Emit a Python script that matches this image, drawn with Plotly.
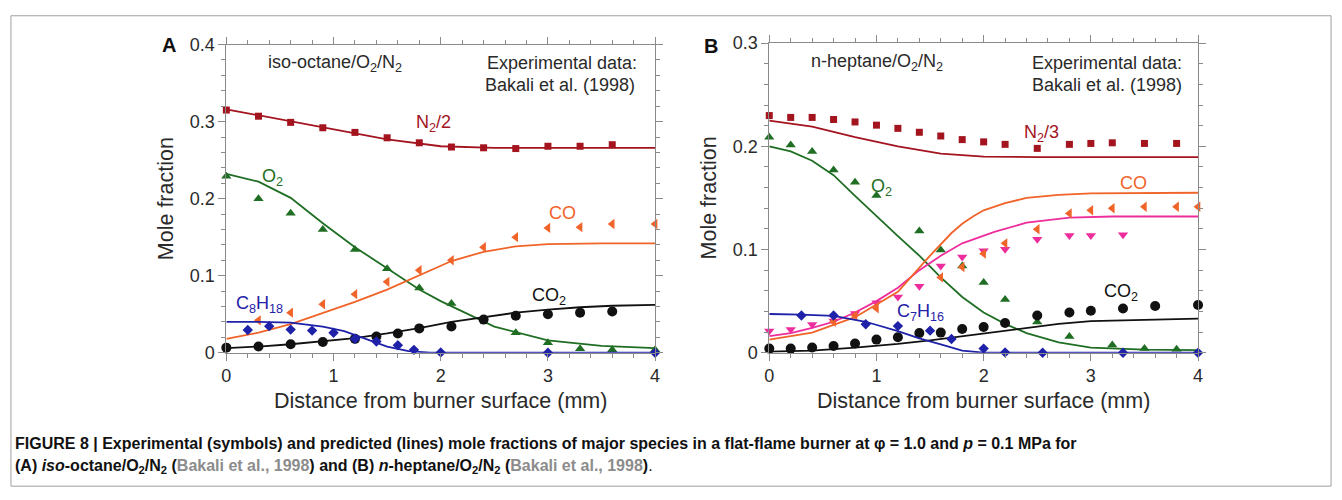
import plotly.graph_objects as go

# ---------------- Panel A: iso-octane/O2/N2 ----------------
# experimental symbols
a_n2_x = [0.0, 0.3, 0.6, 0.9, 1.2, 1.5, 1.8, 2.1, 2.4, 2.7, 3.0, 3.3, 3.6]
a_n2_y = [0.315, 0.307, 0.299, 0.292, 0.286, 0.279, 0.2725, 0.267, 0.266, 0.265, 0.268, 0.268, 0.270]
a_o2_x = [0.0, 0.3, 0.6, 0.9, 1.2, 1.5, 1.8, 2.1, 2.7, 3.0, 3.3, 3.6, 4.0]
a_o2_y = [0.229, 0.200, 0.181, 0.160, 0.134, 0.109, 0.084, 0.064, 0.026, 0.013, 0.005, 0.004, 0.004]
a_co_x = [0.3, 0.6, 0.9, 1.2, 1.5, 1.8, 2.1, 2.4, 2.7, 3.0, 3.3, 3.6, 4.0]
a_co_y = [0.042, 0.052, 0.063, 0.076, 0.092, 0.107, 0.120, 0.137, 0.150, 0.162, 0.163, 0.167, 0.167]
a_co2_x = [0.0, 0.3, 0.6, 0.9, 1.2, 1.4, 1.6, 1.8, 2.1, 2.4, 2.7, 3.0, 3.3, 3.6]
a_co2_y = [0.0066, 0.008, 0.011, 0.014, 0.018, 0.021, 0.025, 0.0316, 0.034, 0.043, 0.048, 0.050, 0.052, 0.0536]
a_fuel_x = [0.2, 0.4, 0.6, 0.8, 1.0, 1.2, 1.4, 1.6, 1.75, 2.0, 3.0, 4.0]
a_fuel_y = [0.0295, 0.0345, 0.030, 0.0287, 0.026, 0.018, 0.0146, 0.0096, 0.0037, 0.0004, 0.0, 0.0]
# predicted lines
a_n2_lx = [0.0, 0.5, 1.0, 1.5, 2.0, 2.5, 3.0, 4.0]
a_n2_ly = [0.316, 0.303, 0.290, 0.277, 0.268, 0.266, 0.266, 0.266]
a_o2_lx = [0.0, 0.3, 0.6, 0.9, 1.2, 1.5, 1.8, 2.0, 2.5, 3.0, 3.5, 4.0]
a_o2_ly = [0.232, 0.222, 0.201, 0.168, 0.137, 0.110, 0.082, 0.067, 0.034, 0.016, 0.009, 0.006]
a_co_lx = [0.0, 0.3, 0.6, 0.9, 1.2, 1.5, 1.8, 2.1, 2.4, 2.7, 3.0, 3.5, 4.0]
a_co_ly = [0.018, 0.026, 0.037, 0.051, 0.066, 0.082, 0.101, 0.119, 0.131, 0.138, 0.141, 0.142, 0.142]
a_co2_lx = [0.0, 0.3, 0.6, 0.9, 1.2, 1.5, 1.8, 2.1, 2.4, 2.7, 3.0, 3.3, 3.6, 4.0]
a_co2_ly = [0.006, 0.008, 0.011, 0.015, 0.019, 0.025, 0.032, 0.040, 0.046, 0.052, 0.056, 0.059, 0.061, 0.062]
a_fuel_lx = [0.0, 0.3, 0.6, 0.9, 1.1, 1.3, 1.5, 1.7, 1.9, 4.0]
a_fuel_ly = [0.040, 0.040, 0.039, 0.034, 0.028, 0.018, 0.008, 0.002, 0.0, 0.0]

# ---------------- Panel B: n-heptane/O2/N2 ----------------
b_n2_x = [0.0, 0.2, 0.4, 0.6, 0.8, 1.0, 1.2, 1.4, 1.6, 1.8, 2.0, 2.2, 2.5, 2.8, 3.0, 3.2, 3.5, 3.8]
b_n2_y = [0.2298, 0.228, 0.228, 0.226, 0.2236, 0.2205, 0.2174, 0.2136, 0.210, 0.2065, 0.2043, 0.2019,
          0.198, 0.2019, 0.2028, 0.2034, 0.2028, 0.2028]
b_o2_x = [0.0, 0.2, 0.4, 0.6, 0.8, 1.0, 1.4, 1.6, 1.8, 2.0, 2.2, 2.5, 2.8, 3.2, 3.5, 3.8]
b_o2_y = [0.2087, 0.2012, 0.195, 0.177, 0.1653, 0.1523, 0.118, 0.0995, 0.084, 0.068, 0.0515, 0.0298,
          0.0158, 0.0075, 0.004, 0.0034]
b_co_x = [0.6, 0.8, 1.0, 1.6, 1.8, 2.0, 2.2, 2.5, 2.8, 3.0, 3.2, 3.5, 3.8, 4.0]
b_co_y = [0.030, 0.036, 0.043, 0.073, 0.083, 0.096, 0.106, 0.1197, 0.135, 0.138, 0.140, 0.1414, 0.1414, 0.1414]
b_pk_x = [0.0, 0.2, 0.4, 0.6, 0.8, 1.0, 1.2, 1.4, 1.6, 1.8, 2.0, 2.2, 2.5, 2.8, 3.0, 3.3]
b_pk_y = [0.021, 0.0226, 0.0273, 0.0307, 0.038, 0.0484, 0.054, 0.0645, 0.084, 0.0927, 0.0989, 0.1002,
          0.110, 0.1135, 0.1135, 0.1144]
b_co2_x = [0.0, 0.2, 0.4, 0.6, 0.8, 1.0, 1.2, 1.4, 1.6, 1.8, 2.0, 2.2, 2.5, 2.8, 3.0, 3.3, 3.6, 4.0]
b_co2_y = [0.004, 0.004, 0.005, 0.0065, 0.009, 0.0127, 0.015, 0.019, 0.0195, 0.023, 0.025, 0.0288,
           0.036, 0.039, 0.0406, 0.0428, 0.0453, 0.0462]
b_fuel_x = [0.3, 0.6, 0.9, 1.2, 1.5, 1.7, 2.0, 2.2, 2.55, 3.3, 4.0]
b_fuel_y = [0.036, 0.036, 0.0276, 0.0258, 0.0214, 0.0133, 0.004, 0.0003, 0.0, 0.0, 0.0]
# predicted lines
b_n2_lx = [0.0, 0.4, 0.8, 1.2, 1.6, 2.0, 2.5, 4.0]
b_n2_ly = [0.225, 0.219, 0.209, 0.200, 0.193, 0.190, 0.1895, 0.1895]
b_o2_lx = [0.0, 0.2, 0.4, 0.6, 0.8, 1.0, 1.2, 1.4, 1.6, 1.8, 2.0, 2.2, 2.4, 2.7, 3.0, 3.5, 4.0]
b_o2_ly = [0.200, 0.195, 0.186, 0.172, 0.152, 0.132, 0.113, 0.094, 0.073, 0.054, 0.039, 0.028, 0.019,
           0.010, 0.005, 0.003, 0.0025]
b_co_lx = [0.0, 0.4, 0.8, 1.2, 1.5, 1.6, 1.7, 1.8, 1.9, 2.0, 2.2, 2.4, 2.7, 3.0, 4.0]
b_co_ly = [0.0127, 0.0195, 0.0344, 0.059, 0.094, 0.105, 0.116, 0.125, 0.132, 0.138, 0.145, 0.150,
           0.153, 0.1545, 0.155]
b_pk_lx = [0.0, 0.2, 0.4, 0.6, 0.8, 1.0, 1.2, 1.4, 1.6, 1.8, 2.1, 2.4, 2.8, 3.2, 4.0]
b_pk_ly = [0.016, 0.019, 0.024, 0.030, 0.039, 0.050, 0.063, 0.080, 0.094, 0.106, 0.117, 0.126, 0.131,
           0.132, 0.132]
b_co2_lx = [0.0, 0.4, 0.8, 1.2, 1.5, 1.8, 2.1, 2.4, 2.7, 3.0, 3.5, 4.0]
b_co2_ly = [0.001, 0.002, 0.005, 0.0085, 0.012, 0.016, 0.0205, 0.0245, 0.028, 0.0307, 0.032, 0.033]
b_fuel_lx = [0.0, 0.3, 0.6, 0.9, 1.2, 1.4, 1.6, 1.8, 2.0, 4.0]
b_fuel_ly = [0.0375, 0.037, 0.0357, 0.030, 0.021, 0.014, 0.008, 0.002, 0.0, 0.0]

x_ticks = [0, 1, 2, 3, 4]
a_y_ticks = [0, 0.1, 0.2, 0.3, 0.4]
b_y_ticks = [0, 0.1, 0.2, 0.3]

# ---------------- styles ----------------
C_N2 = "#a3141e"
C_O2 = "#1f6e24"
C_CO = "#f0642a"
C_CO2 = "#111111"
C_FUEL = "#1f22a8"
C_PK = "#ee2d9c"
FONT = "Liberation Sans, Arial, Helvetica, sans-serif"
TXT = "#2a2a2a"

fig = go.Figure()


def add_series(xs, ys, lx, ly, color, symbol, size, ax, lcolor=None):
    xa, ya = ax
    fig.add_trace(go.Scatter(x=lx, y=ly, mode="lines", line=dict(color=lcolor or color, width=1.8),
                             xaxis=xa, yaxis=ya, showlegend=False, hoverinfo="skip", cliponaxis=False))
    fig.add_trace(go.Scatter(x=xs, y=ys, mode="markers",
                             marker=dict(symbol=symbol, size=size, color=color, line=dict(width=0)),
                             xaxis=xa, yaxis=ya, showlegend=False, cliponaxis=False))


A = ("x", "y")
B = ("x2", "y2")
add_series(a_n2_x, a_n2_y, a_n2_lx, a_n2_ly, C_N2, "square", 7, A)
add_series(a_o2_x, a_o2_y, a_o2_lx, a_o2_ly, C_O2, "triangle-up", 9, A)
add_series(a_co_x, a_co_y, a_co_lx, a_co_ly, C_CO, "triangle-left", 9, A)
add_series(a_co2_x, a_co2_y, a_co2_lx, a_co2_ly, C_CO2, "circle", 10, A)
add_series(a_fuel_x, a_fuel_y, a_fuel_lx, a_fuel_ly, C_FUEL, "diamond", 8, A)

add_series(b_n2_x, b_n2_y, b_n2_lx, b_n2_ly, C_N2, "square", 7, B)
add_series(b_o2_x, b_o2_y, b_o2_lx, b_o2_ly, C_O2, "triangle-up", 9, B)
add_series(b_pk_x, b_pk_y, b_pk_lx, b_pk_ly, C_PK, "triangle-down", 9, B)
add_series(b_co_x, b_co_y, b_co_lx, b_co_ly, C_CO, "triangle-left", 9, B)
add_series(b_co2_x, b_co2_y, b_co2_lx, b_co2_ly, C_CO2, "circle", 10, B)
add_series(b_fuel_x, b_fuel_y, b_fuel_lx, b_fuel_ly, C_FUEL, "diamond", 8, B)

AX_COL = "#8a8a8a"
common = dict(showline=True, linecolor=AX_COL, linewidth=1, mirror="ticks", ticks="outside",
              ticklen=7, tickwidth=1, tickcolor=AX_COL, showgrid=False, zeroline=False,
              tickfont=dict(family=FONT, size=18, color=TXT), fixedrange=True)

xcommon = dict(common, range=[0, 4], tickvals=x_ticks, ticktext=[str(v) for v in x_ticks],
               minor=dict(dtick=0.2, ticks="outside", ticklen=4, tickcolor=AX_COL, showgrid=False),
               title=dict(text="Distance from burner surface (mm)", font=dict(family=FONT, size=21.5, color=TXT),
                          standoff=7))

fig.update_layout(
    width=1342, height=500, margin=dict(l=0, r=0, t=0, b=0),
    paper_bgcolor="white", plot_bgcolor="white",
    xaxis=dict(xcommon, domain=[223 / 1342, 655 / 1342], anchor="y"),
    yaxis=dict(common, domain=[1 - 357 / 500, 1 - 36 / 500], anchor="x", range=[0, 0.4],
               tickvals=a_y_ticks, ticktext=["0", "0.1", "0.2", "0.3", "0.4"],
               minor=dict(dtick=0.02, ticks="outside", ticklen=4, tickcolor=AX_COL, showgrid=False),
               title=dict(text="Mole fraction", font=dict(family=FONT, size=21.5, color=TXT), standoff=10)),
    xaxis2=dict(xcommon, domain=[770 / 1342, 1202 / 1342], anchor="y2"),
    yaxis2=dict(common, domain=[1 - 357 / 500, 1 - 34.5 / 500], anchor="x2", range=[0, 0.3],
                tickvals=b_y_ticks, ticktext=["0", "0.1", "0.2", "0.3"],
                minor=dict(dtick=0.02, ticks="outside", ticklen=4, tickcolor=AX_COL, showgrid=False),
                title=dict(text="Mole fraction", font=dict(family=FONT, size=21.5, color=TXT), standoff=10)),
)

ann = []


def txt(x, y, text, color=TXT, xref="x", yref="y", xanchor="center", size=18, yanchor="middle"):
    ann.append(dict(x=x, y=y, xref=xref, yref=yref, text=text, showarrow=False, xanchor=xanchor,
                    yanchor=yanchor, font=dict(family=FONT, size=size, color=color)))


# panel A texts
txt(0.37, 0.376, "iso-octane/O<sub>2</sub>/N<sub>2</sub>", xanchor="left")
txt(3.85, 0.376, "Experimental data:", xanchor="right")
txt(3.83, 0.348, "Bakali et al. (1998)", xanchor="right")
txt(1.935, 0.297, "N<sub>2</sub>/2", C_N2)
txt(0.435, 0.228, "O<sub>2</sub>", C_O2)
txt(3.136, 0.181, "CO", C_CO)
txt(0.306, 0.063, "C<sub>8</sub>H<sub>18</sub>", C_FUEL)
txt(3.01, 0.073, "CO<sub>2</sub>", C_CO2)
# panel B texts
txt(0.37, 0.281, "n-heptane/O<sub>2</sub>/N<sub>2</sub>", xref="x2", yref="y2", xanchor="left")
txt(3.87, 0.281, "Experimental data:", xref="x2", yref="y2", xanchor="right")
txt(3.87, 0.2595, "Bakali et al. (1998)", xref="x2", yref="y2", xanchor="right")
txt(2.537, 0.2125, "N<sub>2</sub>/3", C_N2, xref="x2", yref="y2")
txt(1.049, 0.160, "O<sub>2</sub>", C_O2, xref="x2", yref="y2")
txt(3.395, 0.1647, "CO", C_CO, xref="x2", yref="y2")
txt(1.407, 0.039, "C<sub>7</sub>H<sub>16</sub>", C_FUEL, xref="x2", yref="y2")
txt(3.278, 0.058, "CO<sub>2</sub>", C_CO2, xref="x2", yref="y2")
# panel letters
ann.append(dict(x=165 / 1342, y=1 - 36 / 500, xref="paper", yref="paper", text="<b>A</b>", showarrow=False,
                font=dict(family=FONT, size=20, color="#111"), xanchor="center", yanchor="middle"))
ann.append(dict(x=711 / 1342, y=1 - 37 / 500, xref="paper", yref="paper", text="<b>B</b>", showarrow=False,
                font=dict(family=FONT, size=20, color="#111"), xanchor="center", yanchor="middle"))
# caption
GREY = "#8c8c8c"
cap1 = ("<b>FIGURE 8 | Experimental (symbols) and predicted (lines) mole fractions of major species in a "
        "flat-flame burner at φ = 1.0 and <i>p</i> = 0.1 MPa for</b>")
cap2 = ("<b>(A) <i>iso</i>-octane/O<sub>2</sub>/N<sub>2</sub> (<span style='color:" + GREY + "'>Bakali et al., 1998</span>) "
        "and (B) <i>n</i>-heptane/O<sub>2</sub>/N<sub>2</sub> (<span style='color:" + GREY + "'>Bakali et al., 1998</span>)</b>.")
ann.append(dict(x=8 / 1342, y=1 - 452 / 500, xref="paper", yref="paper", text=cap1, showarrow=False,
                xanchor="left", yanchor="middle", font=dict(family=FONT, size=16, color="#111")))
ann.append(dict(x=8 / 1342, y=1 - 475 / 500, xref="paper", yref="paper", text=cap2, showarrow=False,
                xanchor="left", yanchor="middle", font=dict(family=FONT, size=16, color="#111")))
fig.update_layout(annotations=ann)

# outer frame
fig.add_shape(type="rect", xref="paper", yref="paper", x0=6 / 1342, x1=1336 / 1342, y0=1 - 496 / 500,
              y1=1 - 6 / 500, line=dict(color="#a0a0a0", width=1), fillcolor="rgba(0,0,0,0)", layer="below")

fig.write_html("out.html")
